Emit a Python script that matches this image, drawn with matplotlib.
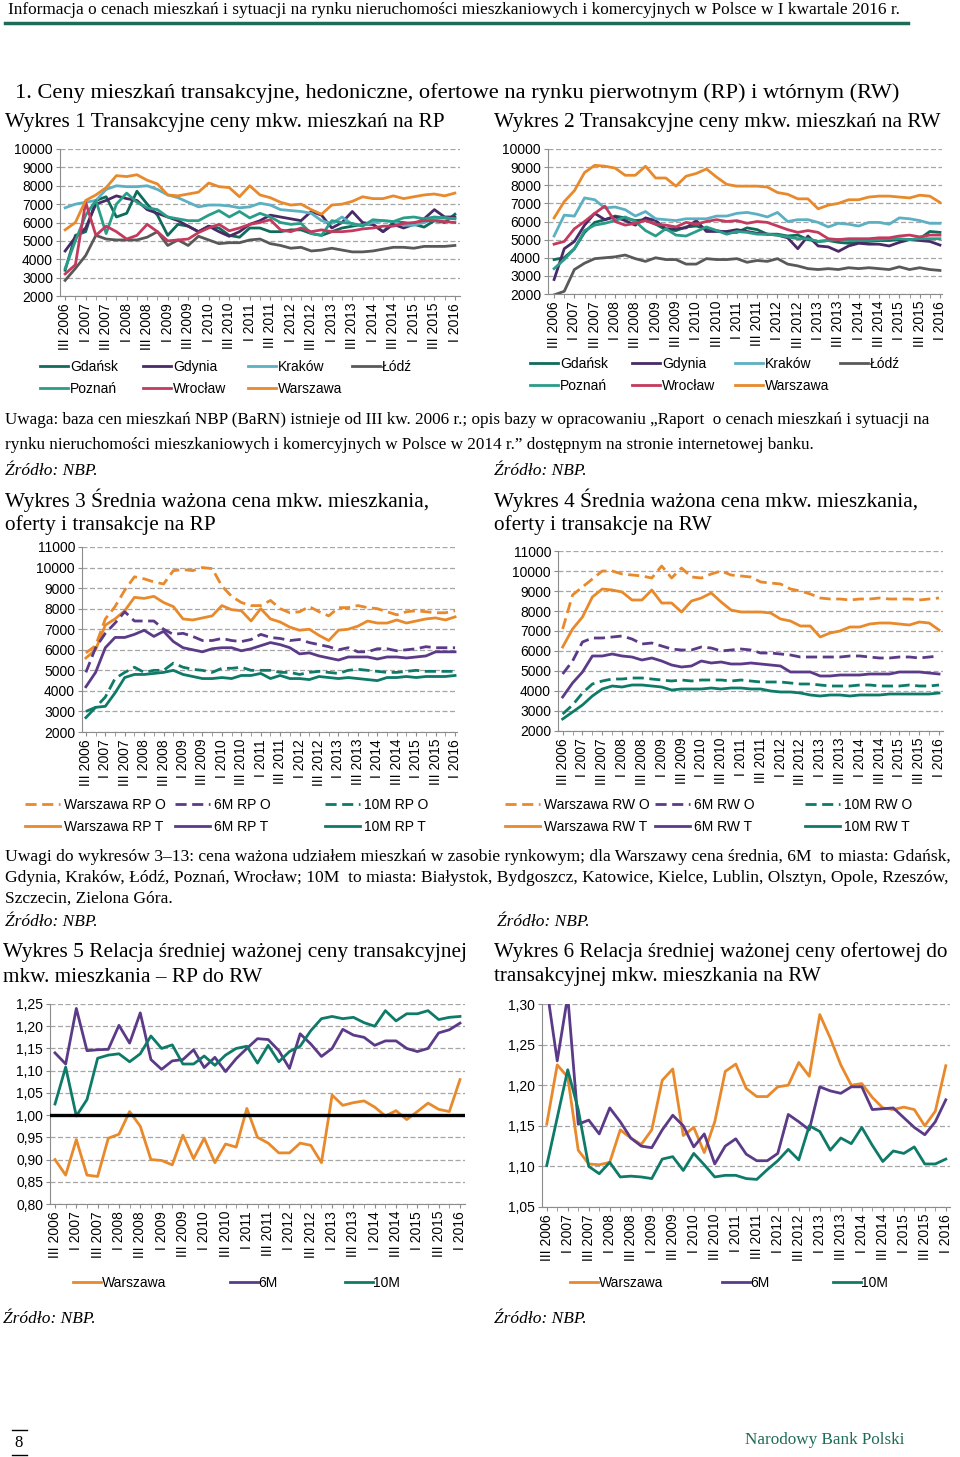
import numpy as np
import matplotlib
matplotlib.use("Agg")
import matplotlib.pyplot as plt
from matplotlib.lines import Line2D

plt.rcParams['font.family'] = ['Liberation Sans', 'DejaVu Sans']

W, H = 960, 1457

# tick labels, one every second quarter (III 2006 ... I 2016 = 39 quarters)
tick_labels = ["III 2006", "I 2007", "III 2007", "I 2008", "III 2008", "I 2009",
               "III 2009", "I 2010", "III 2010", "I 2011", "III 2011", "I 2012",
               "III 2012", "I 2013", "III 2013", "I 2014", "III 2014", "I 2015",
               "III 2015", "I 2016"]

# Wykres 1 - transaction prices, primary market (RP)
rp_gdansk = [3400, 5300, 5500, 7200, 7400, 6300, 6500, 7700, 7000, 6400, 5300, 5900, 5800,
             5500, 5800, 5700, 5300, 5200, 5700, 5700, 5500, 5500, 5600, 5600, 5400, 5300,
             5500, 5700, 5800, 5900, 5900, 5500, 6000, 6000, 5900, 5750, 6100, 6000, 6450]
rp_gdynia = [4450, 5200, 5700, 7000, 7200, 7450, 7300, 7200, 6700, 6500, 6300, 6100, 5800,
             5500, 5800, 5500, 5250, 5500, 5900, 6100, 6400, 6300, 6200, 6100, 6600, 6400,
             5700, 6000, 6600, 6000, 5900, 5500, 5900, 5700, 5900, 6200, 6700, 6300, 6300]
rp_krakow = [6800, 7000, 7100, 7200, 7800, 8000, 7950, 7950, 8000, 7800, 7500, 7350, 7100,
             6850, 6950, 6950, 6900, 6800, 6850, 7050, 6950, 6700, 6650, 6600, 6500, 6100,
             5950, 6300, 5900, 5850, 6000, 6100, 6050, 5850, 5850, 6000, 6200, 6250, 6200]
rp_lodz = [2850, 3500, 4200, 5300, 5100, 5050, 5050, 5050, 5200, 5500, 4750, 5050, 4750,
           5250, 5050, 4850, 4900, 4900, 5050, 5100, 4850, 4750, 4600, 4650, 4450, 4500,
           4600, 4500, 4400, 4400, 4450, 4550, 4650, 4650, 4600, 4700, 4700, 4700, 4750]
rp_poznan = [3500, 5000, 6400, 7200, 5400, 7000, 7600, 7100, 6800, 6700, 6300, 6200, 6100,
             6100, 6400, 6650, 6300, 6600, 6250, 6500, 6300, 6000, 5900, 5950, 5400, 5300,
             6100, 6000, 5950, 5800, 6150, 6100, 6050, 6250, 6300, 6200, 6300, 6250, 6200]
rp_wroclaw = [3200, 3700, 7100, 5300, 5800, 5500, 5100, 5300, 5900, 5500, 5000, 5050, 5100,
              5450, 5700, 5900, 5550, 5700, 5900, 6000, 6150, 5600, 5500, 5700, 5500, 5600,
              5500, 5500, 5550, 5650, 5700, 5800, 5800, 5950, 6000, 6100, 6100, 6050, 6000]
rp_warszawa = [5600, 6000, 7200, 7500, 7900, 8550, 8500, 8600, 8300, 8100, 7500, 7450, 7550,
               7650, 8150, 7950, 7900, 7400, 8000, 7500, 7350, 7100, 6950, 7000, 6700, 6450,
               6950, 7000, 7150, 7400, 7300, 7300, 7450, 7300, 7400, 7500, 7550, 7450, 7600]

# Wykres 2 - transaction prices, secondary market (RW)
rw_gdansk = [3900, 4000, 4500, 5400, 5950, 6100, 6300, 6200, 6050, 6100, 5850, 5550, 5500,
             5700, 5750, 5600, 5500, 5400, 5400, 5650, 5550, 5300, 5300, 5200, 5250, 5000,
             4900, 4950, 4850, 4800, 4850, 4900, 4950, 4950, 5000, 5000, 5050, 5450, 5400]
rw_gdynia = [2800, 4500, 4900, 5800, 6450, 6100, 6250, 6050, 5800, 6200, 6050, 5600, 5600,
             5650, 6050, 5450, 5450, 5450, 5550, 5450, 5350, 5300, 5250, 5100, 4500, 5200,
             4650, 4600, 4350, 4650, 4800, 4750, 4750, 4650, 4850, 5000, 4950, 4900, 4700]
rw_krakow = [5200, 6350, 6300, 7300, 7200, 6750, 6800, 6650, 6300, 6550, 6150, 6100, 6050,
             6150, 6150, 6150, 6300, 6300, 6450, 6500, 6400, 6250, 6500, 6000, 6100, 6100,
             5950, 5700, 5900, 5850, 5750, 5950, 5950, 5850, 6200, 6150, 6050, 5900, 5900]
rw_lodz = [1950, 2150, 3350, 3700, 3950, 4000, 4050, 4150, 3950, 3800, 4000, 3900, 3900,
           3650, 3650, 3950, 3900, 3900, 3950, 3750, 3850, 3800, 3950, 3650, 3550, 3400,
           3350, 3400, 3350, 3450, 3400, 3450, 3400, 3350, 3500, 3350, 3450, 3350, 3300]
rw_poznan = [3400, 3900, 4500, 5500, 5800, 5900, 6050, 6250, 6000, 5500, 5200, 5600, 5250,
             5200, 5450, 5700, 5500, 5300, 5450, 5400, 5300, 5300, 5250, 5150, 5050, 5050,
             4900, 4950, 5000, 4950, 4950, 4950, 5000, 5050, 5050, 5000, 5050, 5050, 5050]
rw_wroclaw = [4750, 4900, 5600, 6000, 6450, 6850, 6000, 5800, 5900, 6050, 5850, 5800, 5700,
              5950, 5850, 6000, 6100, 6000, 6050, 5900, 6000, 5950, 5750, 5550, 5400, 5500,
              5400, 5050, 5000, 5050, 5050, 5050, 5100, 5100, 5200, 5250, 5150, 5250, 5250]
rw_warszawa = [6200, 7100, 7700, 8700, 9100, 9050, 8950, 8550, 8550, 9050, 8400, 8400, 7950,
               8500, 8650, 8900, 8450, 8050, 7950, 7950, 7950, 7900, 7600, 7500, 7250, 7250,
               6700, 6900, 7000, 7200, 7200, 7350, 7400, 7400, 7350, 7300, 7450, 7400, 7050]

# Wykres 3 - weighted average prices, offers (O) and transactions (T), RP
rp_waw_o = [5850, 6200, 7500, 8100, 8900, 9550, 9450, 9300, 9200, 9850, 9900, 9850, 10000,
            9950, 9100, 8600, 8300, 8150, 8150, 8400, 8000, 7800, 7850, 8100, 7850, 7650,
            8050, 8050, 8150, 8050, 8000, 7850, 7700, 7850, 7900, 7850, 7800, 7800, 7900]
rp_6m_o = [4900, 6100, 6800, 7300, 7850, 7400, 7400, 7400, 7000, 6750, 6800, 6650, 6450,
           6450, 6550, 6450, 6400, 6500, 6750, 6600, 6550, 6450, 6500, 6350, 6250, 6150,
           6000, 6100, 5900, 5900, 6050, 6050, 5950, 6000, 6050, 6150, 6100, 6100, 6100]
rp_6m_t = [4200, 4900, 6100, 6600, 6600, 6750, 6950, 6650, 6900, 6400, 6100, 6000, 5900,
           6050, 6100, 6100, 5950, 6050, 6200, 6350, 6250, 6100, 5800, 5850, 5700, 5600,
           5500, 5650, 5650, 5650, 5550, 5650, 5650, 5600, 5650, 5700, 5900, 5900, 5900]
rp_10m_o = [3000, 3200, 3700, 4600, 4900, 5150, 4900, 5000, 5000, 5350, 5150, 5050, 5000,
            4900, 5100, 5100, 5150, 5000, 5000, 5000, 4900, 4900, 4800, 4900, 4950, 4900,
            4850, 5000, 5050, 5000, 4950, 4900, 4900, 4950, 5000, 4950, 4950, 4950, 4950]
rp_10m_t = [2700, 3200, 3250, 3900, 4650, 4800, 4800, 4850, 4900, 5000, 4800, 4700, 4600,
            4600, 4650, 4600, 4750, 4750, 4850, 4600, 4750, 4600, 4600, 4550, 4700, 4650,
            4600, 4650, 4600, 4550, 4500, 4650, 4650, 4700, 4650, 4700, 4700, 4700, 4750]

# Wykres 4 - weighted average prices, offers (O) and transactions (T), RW
rw_waw_o = [7100, 8800, 9200, 9600, 10000, 10000, 9850, 9800, 9750, 9650, 10250, 9650, 10150,
            9700, 9650, 9850, 10000, 9800, 9750, 9700, 9450, 9400, 9350, 9100, 9000, 8850,
            8650, 8600, 8600, 8550, 8600, 8600, 8650, 8600, 8600, 8600, 8550, 8600, 8650]
rw_6m_o = [4850, 5500, 6450, 6650, 6650, 6700, 6750, 6600, 6350, 6400, 6250, 6100, 6050,
           6050, 6200, 6150, 6000, 6050, 6100, 6050, 5900, 5900, 5850, 5800, 5700, 5700,
           5700, 5700, 5700, 5750, 5750, 5700, 5650, 5650, 5700, 5700, 5650, 5700, 5750]
rw_6m_t = [3700, 4400, 4950, 5750, 5750, 5850, 5750, 5700, 5550, 5650, 5500, 5300, 5200,
           5250, 5500, 5400, 5450, 5350, 5350, 5400, 5350, 5300, 5250, 4950, 4950, 4950,
           4750, 4750, 4800, 4800, 4800, 4850, 4850, 4850, 4950, 4950, 4950, 4900, 4850]
rw_10m_o = [2850, 3300, 3900, 4350, 4500, 4600, 4600, 4650, 4650, 4600, 4550, 4500, 4550,
            4500, 4550, 4550, 4550, 4500, 4550, 4500, 4450, 4450, 4450, 4400, 4350, 4350,
            4300, 4250, 4250, 4250, 4300, 4300, 4250, 4250, 4250, 4300, 4250, 4250, 4300]
rw_10m_t = [2600, 2950, 3300, 3750, 4100, 4250, 4200, 4300, 4300, 4250, 4200, 4050, 4100,
            4100, 4100, 4150, 4100, 4150, 4150, 4100, 4100, 4000, 3950, 3950, 3900, 3800,
            3750, 3800, 3800, 3750, 3800, 3800, 3800, 3850, 3850, 3850, 3850, 3850, 3900]

# Wykres 5 - ratio of transaction price RP / RW
r5_warszawa = [0.900, 0.865, 0.945, 0.865, 0.862, 0.948, 0.957, 1.008, 0.975, 0.900, 0.898,
               0.888, 0.955, 0.902, 0.948, 0.893, 0.935, 0.928, 1.015, 0.950, 0.937, 0.915,
               0.915, 0.937, 0.932, 0.893, 1.045, 1.022, 1.028, 1.032, 1.018, 0.998, 1.010,
               0.990, 1.008, 1.027, 1.013, 1.008, 1.080]
r5_6m = [1.140, 1.115, 1.240, 1.145, 1.147, 1.148, 1.202, 1.162, 1.230, 1.125, 1.103, 1.122,
         1.125, 1.147, 1.107, 1.130, 1.098, 1.127, 1.150, 1.172, 1.170, 1.145, 1.105, 1.183,
         1.160, 1.132, 1.150, 1.193, 1.180, 1.175, 1.157, 1.167, 1.167, 1.150, 1.143, 1.150,
         1.185, 1.192, 1.207]
r5_10m = [1.025, 1.108, 0.998, 1.035, 1.128, 1.135, 1.138, 1.120, 1.138, 1.178, 1.150, 1.158,
          1.115, 1.115, 1.133, 1.112, 1.135, 1.150, 1.155, 1.117, 1.157, 1.120, 1.143, 1.155,
          1.190, 1.217, 1.222, 1.217, 1.220, 1.208, 1.200, 1.235, 1.212, 1.228, 1.228, 1.235,
          1.215, 1.220, 1.222]

# Wykres 6 - ratio of offer price / transaction price, RW
r6_warszawa = [1.152, 1.225, 1.210, 1.120, 1.103, 1.102, 1.105, 1.145, 1.135, 1.127, 1.145,
               1.206, 1.220, 1.138, 1.148, 1.117, 1.155, 1.217, 1.226, 1.196, 1.186, 1.186,
               1.198, 1.200, 1.228, 1.211, 1.287, 1.258, 1.225, 1.200, 1.202, 1.185, 1.172,
               1.170, 1.173, 1.170, 1.150, 1.168, 1.224]
r6_6m = [1.320, 1.230, 1.310, 1.152, 1.157, 1.140, 1.172, 1.155, 1.135, 1.125, 1.123, 1.145,
         1.163, 1.150, 1.124, 1.140, 1.103, 1.125, 1.134, 1.115, 1.107, 1.107, 1.116, 1.164,
         1.155, 1.145, 1.198, 1.193, 1.190, 1.198, 1.198, 1.170, 1.171, 1.172, 1.160, 1.148,
         1.139, 1.155, 1.182]
r6_10m = [1.101, 1.160, 1.219, 1.170, 1.100, 1.091, 1.105, 1.087, 1.088, 1.087, 1.085, 1.109,
          1.112, 1.095, 1.116, 1.102, 1.087, 1.089, 1.089, 1.085, 1.084, 1.096, 1.107, 1.121,
          1.108, 1.150, 1.143, 1.120, 1.135, 1.128, 1.148, 1.126, 1.106, 1.119, 1.116, 1.124,
          1.103, 1.103, 1.109]

city_names = ["Gdańsk", "Gdynia", "Kraków", "Łódź", "Poznań", "Wrocław", "Warszawa"]
city_colors = ["#0f6b5a", "#4a2a66", "#5cb0c2", "#595959", "#2a9d88", "#c43a5e", "#e8892b"]
c_waw, c_6m, c_10m = "#e8892b", "#5b3a88", "#0e7a68"

serif = ['Liberation Serif', 'DejaVu Serif']
green_nbp = "#1e6b57"
FS = 10  # chart font size

fig = plt.figure(figsize=(W / 100, H / 100), dpi=100)


def rect(x0, y0, x1, y1):
    return [x0 / W, 1 - y1 / H, (x1 - x0) / W, (y1 - y0) / H]


def txt(x, y, s, size=12.3, **kw):
    kw.setdefault('family', serif)
    fig.text(x / W, 1 - y / H, s, fontsize=size, va='center', ha='left', **kw)


def style(ax, yticks, labels, xlim):
    ax.set_xlim(*xlim)
    ax.set_ylim(yticks[0], yticks[-1])
    ax.set_yticks(yticks)
    ax.set_yticklabels(labels, fontsize=FS)
    ax.set_xticks(range(0, 39, 2))
    ax.set_xticklabels(tick_labels, rotation=90, fontsize=FS)
    ax.set_xticks(range(39), minor=True)
    ax.grid(axis='y', color='#a6a6a6', linestyle=(0, (4, 2)), linewidth=0.9)
    ax.set_axisbelow(True)
    for s in ['top', 'right']:
        ax.spines[s].set_visible(False)
    for s in ['left', 'bottom']:
        ax.spines[s].set_color('#8c8c8c')
    ax.tick_params(axis='both', which='both', length=3, color='#8c8c8c', pad=2)
    ax.patch.set_alpha(0)


def legend_cols(columns, xs, ys, hlen=2.0, pad=0.15):
    # one small legend per column so columns sit where the reference has them
    for col, xpx, ypx in zip(columns, xs, ys):
        fig.legend(col, [h.get_label() for h in col], loc='center left',
                   bbox_to_anchor=(xpx / W, 1 - ypx / H), frameon=False, fontsize=FS,
                   handlelength=hlen, handletextpad=pad, labelspacing=0.55,
                   borderpad=0, borderaxespad=0)


x = np.arange(39)
price_ticks = [2000, 3000, 4000, 5000, 6000, 7000, 8000, 9000, 10000]
price_ticks11 = price_ticks + [11000]

# --- Wykres 1 ---
ax1 = fig.add_axes(rect(60, 149, 460, 296))
rp_series = [rp_gdansk, rp_gdynia, rp_krakow, rp_lodz, rp_poznan, rp_wroclaw, rp_warszawa]
h1 = []
for name, col, ys in zip(city_names, city_colors, rp_series):
    h1 += ax1.plot(x, ys, color=col, lw=2, label=name)
style(ax1, price_ticks, [str(v) for v in price_ticks], (-0.5, 38.5))

# --- Wykres 2 ---
ax2 = fig.add_axes(rect(548, 149, 942, 294))
rw_series = [rw_gdansk, rw_gdynia, rw_krakow, rw_lodz, rw_poznan, rw_wroclaw, rw_warszawa]
h2 = []
for name, col, ys in zip(city_names, city_colors, rw_series):
    h2 += ax2.plot(x, ys, color=col, lw=2, label=name)
style(ax2, price_ticks, [str(v) for v in price_ticks], (-0.6, 38.2))

# Łódź sits alone on the first row
legend_cols([[h1[0], h1[4]], [h1[1], h1[5]], [h1[2], h1[6]], [h1[3]]],
            [40, 143, 248, 352], [378, 378, 378, 367])
legend_cols([[h2[0], h2[4]], [h2[1], h2[5]], [h2[2], h2[6]], [h2[3]]],
            [530, 632, 735, 840], [375, 375, 375, 364])

# --- Wykres 3 ---
ax3 = fig.add_axes(rect(82, 547, 457, 732))
l3 = []
l3 += ax3.plot(x, rp_waw_o, color=c_waw, lw=2, ls=(0, (4, 2)), label="Warszawa RP O")
l3 += ax3.plot(x, rp_warszawa, color=c_waw, lw=2, label="Warszawa RP T")
l3 += ax3.plot(x, rp_6m_o, color=c_6m, lw=2, ls=(0, (4, 2)), label="6M RP O")
l3 += ax3.plot(x, rp_6m_t, color=c_6m, lw=2, label="6M RP T")
l3 += ax3.plot(x, rp_10m_o, color=c_10m, lw=2, ls=(0, (4, 2)), label="10M RP O")
l3 += ax3.plot(x, rp_10m_t, color=c_10m, lw=2, label="10M RP T")
style(ax3, price_ticks11, [str(v) for v in price_ticks11], (-0.4, 38.2))

# --- Wykres 4 ---
ax4 = fig.add_axes(rect(558, 551, 943, 731))
l4 = []
l4 += ax4.plot(x, rw_waw_o, color=c_waw, lw=2, ls=(0, (4, 2)), label="Warszawa RW O")
l4 += ax4.plot(x, rw_warszawa, color=c_waw, lw=2, label="Warszawa RW T")
l4 += ax4.plot(x, rw_6m_o, color=c_6m, lw=2, ls=(0, (4, 2)), label="6M RW O")
l4 += ax4.plot(x, rw_6m_t, color=c_6m, lw=2, label="6M RW T")
l4 += ax4.plot(x, rw_10m_o, color=c_10m, lw=2, ls=(0, (4, 2)), label="10M RW O")
l4 += ax4.plot(x, rw_10m_t, color=c_10m, lw=2, label="10M RW T")
style(ax4, price_ticks11, [str(v) for v in price_ticks11], (-0.47, 38.4))

legend_cols([l3[0:2], l3[2:4], l3[4:6]], [25, 175, 325], [816] * 3, hlen=2.5, pad=0.3)
legend_cols([l4[0:2], l4[2:4], l4[4:6]], [505, 655, 805], [816] * 3, hlen=2.5, pad=0.3)

# --- Wykres 5 ---
r5_ticks = [0.80, 0.85, 0.90, 0.95, 1.00, 1.05, 1.10, 1.15, 1.20, 1.25]
ax5 = fig.add_axes(rect(50, 1004, 465, 1204))
l5 = []
l5 += ax5.plot(x, r5_warszawa, color=c_waw, lw=2, label="Warszawa")
l5 += ax5.plot(x, r5_6m, color=c_6m, lw=2, label="6M")
l5 += ax5.plot(x, r5_10m, color=c_10m, lw=2, label="10M")
ax5.axhline(1.0, color='black', lw=2.4, zorder=3)
style(ax5, r5_ticks, [f"{v:.2f}".replace('.', ',') for v in r5_ticks], (-0.47, 38.47))

# --- Wykres 6 ---
r6_ticks = [1.05, 1.10, 1.15, 1.20, 1.25, 1.30]
ax6 = fig.add_axes(rect(542, 1004, 950, 1207))
l6 = []
l6 += ax6.plot(x, r6_warszawa, color=c_waw, lw=2, label="Warszawa")
l6 += ax6.plot(x, r6_6m, color=c_6m, lw=2, label="6M")
l6 += ax6.plot(x, r6_10m, color=c_10m, lw=2, label="10M")
style(ax6, r6_ticks, [f"{v:.2f}".replace('.', ',') for v in r6_ticks], (-0.45, 38.4))

legend_cols([[h] for h in l5], [73, 230, 345], [1283] * 3, hlen=2.0, pad=0.05)
legend_cols([[h] for h in l6], [570, 722, 833], [1283] * 3, hlen=2.0, pad=0.05)

# --- page texts ---
txt(8, 10, "Informacja o cenach mieszkań i sytuacji na rynku nieruchomości mieszkaniowych "
    "i komercyjnych w Polsce w I kwartale 2016 r.", size=12.4)
fig.add_artist(Line2D([5 / W, 908 / W], [1 - 23 / H, 1 - 23 / H], color=green_nbp, lw=2.5))

txt(15, 93, "1. Ceny mieszkań transakcyjne, hedoniczne, ofertowe na rynku pierwotnym (RP) "
    "i wtórnym (RW)", size=16.1)
txt(5, 122, "Wykres 1 Transakcyjne ceny mkw. mieszkań na RP", size=15.3)
txt(494, 122, "Wykres 2 Transakcyjne ceny mkw. mieszkań na RW", size=15.3)

txt(5, 420, "Uwaga: baza cen mieszkań NBP (BaRN) istnieje od III kw. 2006 r.; opis bazy w "
    "opracowaniu „Raport  o cenach mieszkań i sytuacji na", size=12.3)
txt(5, 445, "rynku nieruchomości mieszkaniowych i komercyjnych w Polsce w 2014 r.” "
    "dostępnym na stronie internetowej banku.", size=12.3)
txt(5, 471, "Źródło: NBP.", size=12.5, style='italic')
txt(494, 471, "Źródło: NBP.", size=12.5, style='italic')
txt(5, 500, "Wykres 3 Średnia ważona cena mkw. mieszkania,", size=15.3)
txt(5, 525, "oferty i transakcje na RP", size=15.3)
txt(494, 500, "Wykres 4 Średnia ważona cena mkw. mieszkania,", size=15.3)
txt(494, 525, "oferty i transakcje na RW", size=15.3)

txt(5, 857, "Uwagi do wykresów 3–13: cena ważona udziałem mieszkań w zasobie rynkowym; dla "
    "Warszawy cena średnia, 6M  to miasta: Gdańsk,", size=12.6)
txt(5, 878, "Gdynia, Kraków, Łódź, Poznań, Wrocław; 10M  to miasta: Białystok, Bydgoszcz, "
    "Katowice, Kielce, Lublin, Olsztyn, Opole, Rzeszów,", size=12.6)
txt(5, 899, "Szczecin, Zielona Góra.", size=12.6)
txt(5, 922, "Źródło: NBP.", size=12.5, style='italic')
txt(497, 922, "Źródło: NBP.", size=12.5, style='italic')
txt(3, 952, "Wykres 5 Relacja średniej ważonej ceny transakcyjnej", size=15.3)
txt(3, 977, "mkw. mieszkania – RP do RW", size=15.3)
txt(494, 952, "Wykres 6 Relacja średniej ważonej ceny ofertowej do", size=15.1)
txt(494, 977, "transakcyjnej mkw. mieszkania na RW", size=15.1)

txt(3, 1319, "Źródło: NBP.", size=12.5, style='italic')
txt(494, 1319, "Źródło: NBP.", size=12.5, style='italic')

txt(14, 1443, "8", size=12)
fig.add_artist(Line2D([12 / W, 27 / W], [1 - 1430 / H] * 2, color='black', lw=1))
fig.add_artist(Line2D([12 / W, 27 / W], [1 - 1455 / H] * 2, color='black', lw=1))
txt(745, 1440, "Narodowy Bank Polski", size=12.3, color=green_nbp)

fig.savefig("out.png", dpi=100)
